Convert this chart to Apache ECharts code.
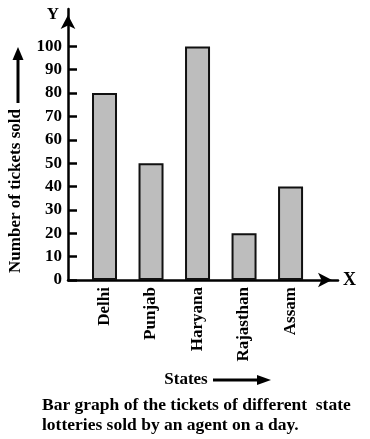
<!DOCTYPE html>
<html>
<head>
<meta charset="utf-8">
<script src="https://cdn.jsdelivr.net/npm/echarts@6/dist/echarts.min.js"></script>
<style>
html,body{margin:0;padding:0;background:#fff;}
#chart{width:370px;height:439px;}
</style>
</head>
<body>
<div id="chart"></div>
<script>
const categories = ['Delhi', 'Punjab', 'Haryana', 'Rajasthan', 'Assam'];
const tickets = [80, 50, 100, 20, 40];
const yTickLabels = [0, 10, 20, 30, 40, 50, 60, 70, 80, 90, 100];
const yAxisTitle = 'Number of tickets sold';
const xAxisTitle = 'States';
const captionLines = ['Bar graph of the tickets of different  state', 'lotteries sold by an agent on a day.'];

const FONT = '"Liberation Serif", "Times New Roman", serif';
const positions = categories.map((c, i) => i + 1);
const seriesData = tickets.map((v, i) => [positions[i], v]);

const chart = echarts.init(document.getElementById('chart'), null, {renderer: 'canvas'});
chart.setOption({
  animation: false,
  backgroundColor: '#fff',
  grid: {left: 68, right: 32, top: 9, bottom: 159, containLabel: false},
  xAxis: {
    type: 'value',
    min: 0.215,
    max: 6.02,
    name: 'X',
    nameLocation: 'end',
    nameGap: 5,
    nameTextStyle: {fontFamily: FONT, fontWeight: 'bold', fontSize: 18, color: '#000', verticalAlign: 'middle', align: 'left'},
    axisLine: {show: true, symbol: ['none', 'arrow'], symbolSize: [11, 14], symbolOffset: [0, -6], lineStyle: {color: '#000', width: 2.5}},
    axisTick: {show: false},
    splitLine: {show: false},
    axisLabel: {
      customValues: positions,
      formatter: v => categories[Math.round(v) - 1] || '',
      rotate: 90,
      margin: 7,
      fontFamily: FONT, fontWeight: 'bold', fontSize: 17, color: '#000'
    }
  },
  yAxis: {
    type: 'value',
    min: 0,
    max: 116,
    name: 'Y',
    nameLocation: 'end',
    nameGap: -6,
    nameTextStyle: {fontFamily: FONT, fontWeight: 'bold', fontSize: 17, color: '#000', align: 'right', verticalAlign: 'middle', padding: [0, 9, 0, 0]},
    axisLine: {show: true, symbol: ['none', 'arrow'], symbolSize: [11, 14], symbolOffset: [0, -6], lineStyle: {color: '#000', width: 2.5}},
    axisTick: {show: true, inside: true, length: 9, customValues: yTickLabels, lineStyle: {color: '#000', width: 2.5}},
    splitLine: {show: false},
    axisLabel: {
      customValues: yTickLabels,
      margin: 6,
      fontFamily: FONT, fontWeight: 'bold', fontSize: 17, color: '#000'
    }
  },
  series: [{
    type: 'bar',
    data: seriesData,
    barWidth: 25,
    itemStyle: {color: '#bdbdbd', borderColor: '#111', borderWidth: 2}
  }],
  graphic: [
    {type: 'text', x: 16, y: 191, rotation: Math.PI / 2,
     style: {text: yAxisTitle, fontFamily: FONT, fontWeight: 'bold', fontSize: 17, fill: '#000', align: 'center', verticalAlign: 'middle'}},
    {type: 'line', shape: {x1: 18, y1: 103, x2: 18, y2: 58}, style: {stroke: '#000', lineWidth: 3}},
    {type: 'polygon', shape: {points: [[18, 47], [12.5, 60], [23.5, 60]]}, style: {fill: '#000'}},
    {type: 'text', x: 186, y: 380,
     style: {text: xAxisTitle, fontFamily: FONT, fontWeight: 'bold', fontSize: 17, fill: '#000', align: 'center', verticalAlign: 'middle'}},
    {type: 'line', shape: {x1: 213, y1: 380, x2: 260, y2: 380}, style: {stroke: '#000', lineWidth: 3}},
    {type: 'polygon', shape: {points: [[271, 380], [257, 375], [257, 385]]}, style: {fill: '#000'}},
    {type: 'text', x: 42, y: 405,
     style: {text: captionLines[0], fontFamily: FONT, fontWeight: 'bold', fontSize: 17.5, fill: '#000', align: 'left', verticalAlign: 'middle'}},
    {type: 'text', x: 42, y: 425,
     style: {text: captionLines[1], fontFamily: FONT, fontWeight: 'bold', fontSize: 17.5, fill: '#000', align: 'left', verticalAlign: 'middle'}}
  ]
});
</script>
</body>
</html>
